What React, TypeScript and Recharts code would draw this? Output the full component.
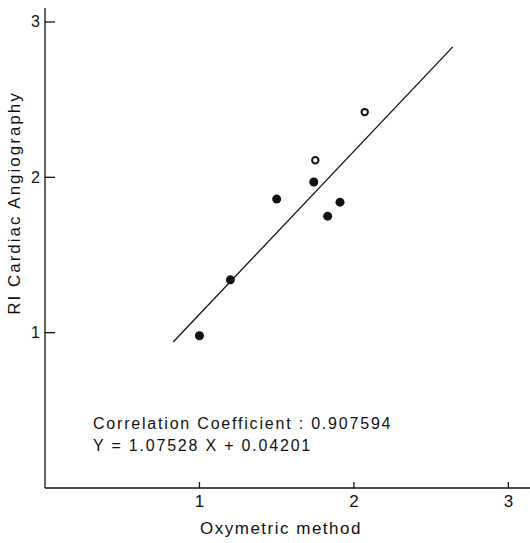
import React from 'react'
import { ScatterChart, Scatter, XAxis, YAxis, ZAxis } from 'recharts'

const filledX = [1.0, 1.2, 1.5, 1.74, 1.83, 1.91]
const filledY = [0.98, 1.34, 1.86, 1.97, 1.75, 1.84]
const openX = [1.75, 2.07]
const openY = [2.11, 2.42]
const fitX = [0.83, 2.64]
const fitY = [0.94, 2.84]
const xTicks = [1, 2, 3]
const yTicks = [1, 2, 3]

const filled = filledX.map((x, i) => ({ x, y: filledY[i] }))
const open = openX.map((x, i) => ({ x, y: openY[i] }))
const fit = fitX.map((x, i) => ({ x, y: fitY[i] }))

const FONT = '"Liberation Sans", Arial, sans-serif'
const INK = '#111'

const YTick = (props: any) => {
  const { x, y, payload } = props
  return (
    <g>
      <line x1={x} y1={y} x2={x + 10} y2={y} stroke={INK} strokeWidth={1.3} />
      <text x={x - 5} y={y} textAnchor="end" dominantBaseline="central" fontSize={16} fontFamily={FONT} fill={INK}>
        {payload.value}
      </text>
    </g>
  )
}

const XTick = (props: any) => {
  const { x, y, payload } = props
  return (
    <g>
      <line x1={x} y1={y} x2={x} y2={y - 6} stroke={INK} strokeWidth={1.3} />
      <text x={x} y={y + 19} textAnchor="middle" fontSize={17} fontFamily={FONT} fill={INK}>
        {payload.value}
      </text>
    </g>
  )
}

const Dot = (props: any) => {
  const { cx, cy } = props
  return <circle cx={cx} cy={cy} r={4.5} fill={INK} />
}

const OpenDot = (props: any) => {
  const { cx, cy } = props
  return <circle cx={cx} cy={cy} r={3.2} fill="#fff" stroke={INK} strokeWidth={2} />
}

export default function App() {
  return (
    <div style={{ position: 'absolute', left: 0, top: 0, width: 530, height: 543, background: '#fff' }}>
      <ScatterChart width={530} height={543} margin={{ top: 8, right: 0, bottom: 54, left: 44 }}>
        <XAxis
          type="number"
          dataKey="x"
          domain={[0, 3.14]}
          ticks={xTicks}
          height={1}
          tickSize={0}
          tickMargin={0}
          tickLine={false}
          tick={<XTick />}
          axisLine={{ stroke: INK, strokeWidth: 1.5 }}
          allowDataOverflow
        />
        <YAxis
          type="number"
          dataKey="y"
          domain={[0, 3.09]}
          ticks={yTicks}
          width={1}
          tickSize={0}
          tickMargin={0}
          tickLine={false}
          tick={<YTick />}
          axisLine={{ stroke: INK, strokeWidth: 1.3 }}
          allowDataOverflow
        />
        <ZAxis range={[40, 40]} />
        <Scatter data={fit} line={{ stroke: INK, strokeWidth: 1.3 }} shape={() => <g />} isAnimationActive={false} />
        <Scatter data={filled} shape={<Dot />} isAnimationActive={false} />
        <Scatter data={open} shape={<OpenDot />} isAnimationActive={false} />
      </ScatterChart>
      <svg width={530} height={543} style={{ position: 'absolute', left: 0, top: 0, pointerEvents: 'none' }}>
        <text
          x={14}
          y={203}
          transform="rotate(-90 14 203)"
          textAnchor="middle"
          dominantBaseline="central"
          fontSize={17}
          fontFamily={FONT}
          fill={INK}
          letterSpacing={2}
        >
          RI Cardiac Angiography
        </text>
        <text x={281} y={534} textAnchor="middle" fontSize={17} fontFamily={FONT} fill={INK} letterSpacing={1.5}>
          Oxymetric method
        </text>
        <text x={93} y={429} fontSize={16} fontFamily={FONT} fill={INK} letterSpacing={1.8}>
          Correlation Coefficient : 0.907594
        </text>
        <text x={93} y={451} fontSize={16} fontFamily={FONT} fill={INK} letterSpacing={1.8}>
          Y = 1.07528 X + 0.04201
        </text>
      </svg>
    </div>
  )
}
